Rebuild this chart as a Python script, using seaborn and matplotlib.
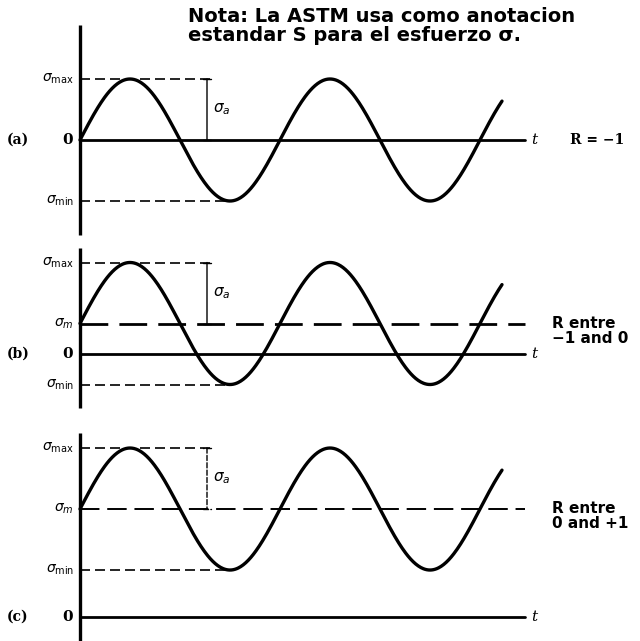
import numpy as np
import pandas as pd
import matplotlib
matplotlib.use("Agg")
import matplotlib.pyplot as plt
import seaborn as sns

sns.set_theme(style="white")
plt.rcParams['font.family'] = ['DejaVu Sans']
plt.rcParams['text.color'] = 'black'

# Stress cycles (stress in units of the amplitude, time in cycles)
panel_tags = ['(a)', '(b)', '(c)']
sigma_max = [1.0, 1.5, 2.77]
sigma_min = [-1.0, -0.5, 0.77]
t_end = 2.11          # last time shown on the wave (cycles)
r_labels = ['R = −1', 'R entre\n−1 and 0', 'R entre\n0 and +1']
note = "Nota: La ASTM usa como anotacion\nestandar S para el esfuerzo σ."

# layout: panel boxes in figure pixels (top, bottom) and zero line row
W, H = 640, 641
boxes = [(20, 240), (243, 415), (425, 641)]
zero_px = [140, 354, 617]
axis_px = [(25, 235), (248, 408), (433, 641)]
amp_px = 61
x0_px, period_px = 80, 200

fig = plt.figure(figsize=(W / 100, H / 100), dpi=100)

for i, tag in enumerate(panel_tags):
    top, bot = boxes[i]
    ax = fig.add_axes([0, 1 - bot / H, 1, (bot - top) / H])
    ax.set_xlim(-x0_px / period_px, (W - x0_px) / period_px)
    ax.set_ylim((zero_px[i] - bot) / amp_px, (zero_px[i] - top) / amp_px)
    ax.set_axis_off()

    smax, smin = sigma_max[i], sigma_min[i]
    sm = (smax + smin) / 2
    sa = (smax - smin) / 2

    t = np.linspace(0, t_end, 500)
    df = pd.DataFrame({'t': t, 's': sm + sa * np.sin(2 * np.pi * t)})
    sns.lineplot(data=df, x='t', y='s', ax=ax, color='black', lw=2.4)

    # vertical stress axis
    a_top, a_bot = axis_px[i]
    ax.plot([0, 0], [(zero_px[i] - a_bot) / amp_px, (zero_px[i] - a_top) / amp_px],
            color='black', lw=2.4, solid_capstyle='butt')
    # time axis at zero stress
    ax.plot([0, 2.225], [0, 0], color='black', lw=2.0)
    ax.text(2.255, 0, 't', style='italic', fontsize=11, va='center', ha='left',
            fontfamily='DejaVu Serif')

    # dashed guides at max and min
    ax.plot([0, 0.66], [smax, smax], color='black', lw=1.2, ls=(0, (6, 3)))
    ax.plot([0, 0.75], [smin, smin], color='black', lw=1.2, ls=(0, (6, 3)))
    if i > 0:
        ax.plot([0, 2.225], [sm, sm], color='black',
                lw=2.0 if i == 1 else 1.4, ls=(0, (10, 4)))

    # amplitude arrow
    ax.annotate('', xy=(0.635, sm), xytext=(0.635, smax),
                arrowprops=dict(arrowstyle='|-|,widthA=0.25,widthB=0.25', lw=1.0,
                                color='black', ls='--' if i == 2 else '-',
                                shrinkA=0, shrinkB=0))
    ax.text(0.665, (sm + smax) / 2, r'$\sigma_a$', fontsize=11, va='center', ha='left')

    # left labels
    ax.text(-0.03, smax, r'$\sigma_{\rm max}$', fontsize=10, ha='right', va='center')
    ax.text(-0.03, smin, r'$\sigma_{\rm min}$', fontsize=10, ha='right', va='center')
    if i > 0:
        ax.text(-0.03, sm, r'$\sigma_{m}$', fontsize=10, ha='right', va='center')
    ax.text(-0.035, 0, '0', fontsize=11, fontweight='bold', ha='right', va='center',
            fontfamily='DejaVu Serif')
    ax.text(-0.31, 0, tag, fontsize=10, fontweight='bold', ha='center', va='center',
            fontfamily='DejaVu Serif')

    # ratio label on the right
    if i == 0:
        ax.text(2.45, 0, 'R = −1', fontsize=10, fontweight='bold', ha='left',
                va='center', fontfamily='DejaVu Serif')
    else:
        ax.text(2.36, sm - 0.12, r_labels[i], fontsize=11, fontweight='bold',
                ha='left', va='center', linespacing=1.0)

fig.text(188 / W, 1 - 7 / H, note, fontsize=14, fontweight='bold', ha='left',
         va='top', linespacing=1.0, fontfamily='DejaVu Sans')

fig.savefig('out.png', dpi=100)
